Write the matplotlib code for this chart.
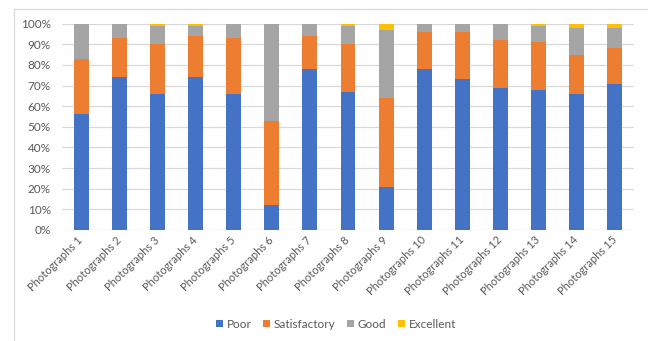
import matplotlib
matplotlib.use("Agg")
import matplotlib.pyplot as plt
from matplotlib.lines import Line2D
from matplotlib.patches import Patch
import numpy as np

plt.rcParams['font.family'] = ['Lato', 'DejaVu Sans']

categories = [f"Photographs {i}" for i in range(1, 16)]
poor = [56, 74, 66, 74, 66, 12, 78, 67, 21, 78, 73, 69, 68, 66, 71]
satisfactory = [27, 19, 24, 20, 27, 41, 16, 23, 43, 18, 23, 23, 23, 19, 17]
good = [17, 7, 9, 5, 7, 47, 6, 9, 33, 4, 4, 8, 8, 13, 10]
excellent = [0, 0, 1, 1, 0, 0, 0, 1, 3, 0, 0, 0, 1, 2, 2]

series = [("Poor", poor, "#4472C4"),
          ("Satisfactory", satisfactory, "#ED7D31"),
          ("Good", good, "#A5A5A5"),
          ("Excellent", excellent, "#FFC000")]

fig = plt.figure(figsize=(6.48, 3.41), dpi=100)
ax = fig.add_axes([62 / 648, 1 - 230 / 341, (634 - 62) / 648, (230 - 23.7) / 341])

x = np.arange(len(categories))
bottom = np.zeros(len(categories))
for name, vals, color in series:
    frac = np.array(vals, dtype=float) / 100.0
    ax.bar(x, frac, width=0.39, bottom=bottom, color=color, label=name, zorder=3)
    bottom += frac

ax.set_xlim(-0.5, len(categories) - 0.5)
ax.set_ylim(0, 1)
ax.set_yticks(np.arange(0, 1.01, 0.1))
ax.set_yticklabels([f"{int(round(v * 100))}%" for v in np.arange(0, 1.01, 0.1)])
ax.yaxis.grid(True, color="#D9D9D9", linewidth=0.9, zorder=0)
ax.set_axisbelow(True)
for s in ax.spines.values():
    s.set_visible(False)

ax.set_xticks(x)
ax.set_xticklabels(categories, rotation=45, ha="right", va="center",
                   rotation_mode="anchor")
ax.tick_params(axis="x", length=0, pad=6, labelsize=8, labelcolor="#595959")
ax.tick_params(axis="y", length=0, pad=8, labelsize=8.5, labelcolor="#595959")

# chart border
fig.add_artist(Line2D([14 / 648, 1.0], [1 - 9 / 341, 1 - 9 / 341],
                      color="#D9D9D9", linewidth=0.9))
fig.add_artist(Line2D([14 / 648, 14 / 648], [0, 1 - 9 / 341],
                      color="#D9D9D9", linewidth=0.9))

handles = [Patch(facecolor=c, label=n) for n, _, c in series]
fig.legend(handles=handles, loc="center", bbox_to_anchor=(336 / 648, 1 - 324 / 341),
           ncol=4, frameon=False, fontsize=8.5, handlelength=0.6, handleheight=0.6,
           handletextpad=0.3, columnspacing=1.0, labelcolor="#595959")

fig.savefig("out.png", dpi=100)
